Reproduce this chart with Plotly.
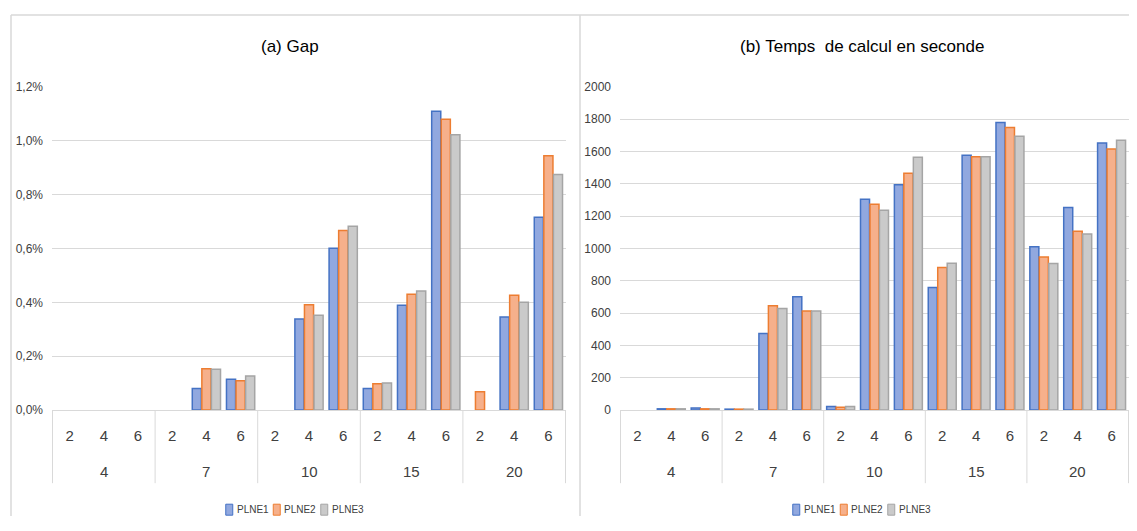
import plotly.graph_objects as go

# ---- data ----
outer_groups = ["4", "7", "10", "15", "20"]
inner_cats = ["2", "4", "6"]
series_names = ["PLNE1", "PLNE2", "PLNE3"]

# Gap in percent, order: for each outer group, inner 2,4,6
gap_plne1 = [0, 0, 0, 0, 0.080, 0.115, 0, 0.338, 0.601, 0.080, 0.389, 1.109, 0, 0.346, 0.716]
gap_plne2 = [0, 0, 0, 0, 0.154, 0.109, 0, 0.391, 0.667, 0.098, 0.430, 1.080, 0.068, 0.426, 0.944]
gap_plne3 = [0, 0, 0, 0, 0.152, 0.127, 0, 0.352, 0.683, 0.101, 0.442, 1.022, 0, 0.400, 0.875]

# Computing time in seconds
time_plne1 = [0, 8, 13, 6, 474, 701, 22, 1305, 1394, 758, 1577, 1779, 1010, 1253, 1652]
time_plne2 = [0, 8, 8, 6, 645, 614, 17, 1274, 1466, 882, 1567, 1748, 948, 1107, 1615]
time_plne3 = [0, 8, 8, 6, 629, 614, 22, 1237, 1565, 909, 1567, 1695, 907, 1089, 1670]

gap_ticks = [0, 0.2, 0.4, 0.6, 0.8, 1.0, 1.2]
gap_ticktext = ["0,0%", "0,2%", "0,4%", "0,6%", "0,8%", "1,0%", "1,2%"]
time_ticks = [0, 200, 400, 600, 800, 1000, 1200, 1400, 1600, 1800, 2000]

title_a = "(a) Gap"
title_b = "(b) Temps  de calcul en seconde"

# ---- styling ----
FONT = "Liberation Sans, Arial, sans-serif"
fills = ["#91A8DF", "#F6B08B", "#CACACA"]
lines = ["#4472C4", "#ED7D31", "#A5A5A5"]
GRID = "#D9D9D9"
TXT = "#404040"

cat_ids = [f"{g}|{c}" for g in outer_groups for c in inner_cats]
cat_text = [c for _ in outer_groups for c in inner_cats]

def nz(vals):
    return [v if v != 0 else None for v in vals]

fig = go.Figure()
gap_series = [gap_plne1, gap_plne2, gap_plne3]
time_series = [time_plne1, time_plne2, time_plne3]
for i, name in enumerate(series_names):
    fig.add_trace(go.Bar(
        x=cat_ids, y=nz(gap_series[i]), name=name, showlegend=False,
        marker=dict(color=fills[i], line=dict(color=lines[i], width=1.5)),
        xaxis="x", yaxis="y",
    ))
for i, name in enumerate(series_names):
    fig.add_trace(go.Bar(
        x=cat_ids, y=nz(time_series[i]), name=name, showlegend=False,
        marker=dict(color=fills[i], line=dict(color=lines[i], width=1.5)),
        xaxis="x2", yaxis="y2",
    ))

# page coordinates -> figure paper coordinates (calibrated to the rendered page)
OFF = 8
W, H = 1137 - 2 * OFF, 531 - 2 * OFF
Y_TOP, Y_SPAN = 14.2, 500.6
def clamp(v):
    return min(1.0, max(0.0, v))
def px_x(v):
    return clamp((v - OFF) / W)
def px_y(v):
    return clamp(1 - (v - Y_TOP) / Y_SPAN)

xcommon = dict(
    type="category", categoryorder="array", categoryarray=cat_ids,
    tickvals=cat_ids, ticktext=cat_text,
    showgrid=False, showline=True, linecolor=GRID, linewidth=1, ticks="",
    ticklabelstandoff=12,
    tickfont=dict(family=FONT, size=15, color=TXT), fixedrange=True,
)
ycommon = dict(
    showgrid=True, gridcolor=GRID, gridwidth=1, zeroline=False, showline=False,
    ticks="", ticklabelstandoff=8, tickfont=dict(family=FONT, size=12, color=TXT), fixedrange=True,
)

border = dict(color=GRID, width=1.5)
shapes = [
    # panel frames (top, left, right edges)
    dict(type="line", xref="paper", yref="paper", x0=px_x(11), x1=px_x(1137), y0=1, y1=1, line=border),
    dict(type="line", xref="paper", yref="paper", x0=px_x(11), x1=px_x(11), y0=0, y1=1, line=border),
    dict(type="line", xref="paper", yref="paper", x0=px_x(580), x1=px_x(580), y0=0, y1=1, line=border),
]
annotations = [
    dict(text=title_a, xref="paper", yref="paper", x=px_x(290), y=px_y(46),
         xanchor="center", yanchor="middle",
         showarrow=False, font=dict(family=FONT, size=17, color="#000000")),
    dict(text=title_b, xref="paper", yref="paper", x=px_x(862), y=px_y(46),
         xanchor="center", yanchor="middle",
         showarrow=False, font=dict(family=FONT, size=17, color="#000000")),
]
n_in = len(inner_cats)
for xr in ["x", "x2"]:
    # group dividers below the axis
    for k in range(len(outer_groups) + 1):
        xpos = k * n_in - 0.5
        shapes.append(dict(type="line", xref=xr, yref="paper", x0=xpos, x1=xpos,
                           y0=px_y(409), y1=px_y(482), line=dict(color=GRID, width=1)))
    # outer group labels
    for k, g in enumerate(outer_groups):
        annotations.append(dict(text=g, xref=xr, yref="paper", x=cat_ids[k * n_in + n_in // 2],
                                y=px_y(470), xanchor="center", yanchor="middle", showarrow=False,
                                font=dict(family=FONT, size=15, color=TXT)))

# compact legends (swatch + label) centred under each chart
LEG_PITCH = 47.5
for center in (297, 864):
    start = center - LEG_PITCH * len(series_names) / 2
    for i, name in enumerate(series_names):
        x0 = start + i * LEG_PITCH
        shapes.append(dict(type="rect", xref="paper", yref="paper",
                           x0=px_x(x0), x1=px_x(x0 + 7), y0=px_y(514), y1=px_y(503),
                           fillcolor=fills[i], line=dict(color=lines[i], width=1)))
        annotations.append(dict(text=name, xref="paper", yref="paper", x=px_x(x0 + 9),
                                y=px_y(508.5), xanchor="left", yanchor="middle", showarrow=False,
                                font=dict(family=FONT, size=10, color=TXT)))

fig.update_layout(
    width=W, height=H,
    margin=dict(l=0, r=0, t=0, b=0),
    paper_bgcolor="white", plot_bgcolor="white",
    barmode="group", bargap=0.16, bargroupgap=0.05,
    font=dict(family=FONT, color=TXT),
    showlegend=False,
    xaxis=dict(domain=[px_x(52), px_x(566)], anchor="y", **xcommon),
    yaxis=dict(domain=[px_y(409), px_y(86)], anchor="x", range=[0, 1.2],
               tickvals=gap_ticks, ticktext=gap_ticktext, **ycommon),
    xaxis2=dict(domain=[px_x(620), px_x(1133)], anchor="y2", **xcommon),
    yaxis2=dict(domain=[px_y(409), px_y(86)], anchor="x2", range=[0, 2000],
                tickvals=time_ticks, **ycommon),
    shapes=shapes,
    annotations=annotations,
)

fig.write_html("out.html")
